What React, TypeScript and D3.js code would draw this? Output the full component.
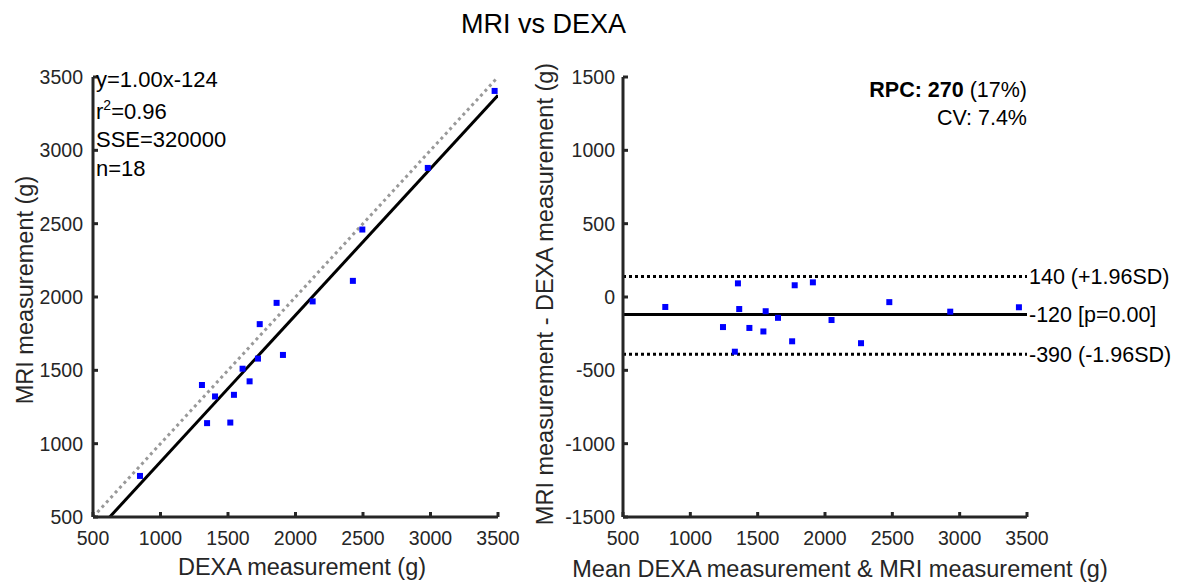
import React from 'react';
import * as d3 from 'd3';

// DEXA vs MRI values (g)
const dexa = [848, 1307, 1345, 1404, 1517, 1544, 1608, 1660, 1722, 1735, 1860, 1907, 2127, 2425, 2495, 2980, 3475];
const mri = [780, 1400, 1140, 1322, 1144, 1333, 1511, 1425, 1580, 1815, 1960, 1605, 1970, 2110, 2460, 2880, 3405];

const xTicks = [500, 1000, 1500, 2000, 2500, 3000, 3500];
const leftYTicks = [500, 1000, 1500, 2000, 2500, 3000, 3500];
const rightYTicks = [-1500, -1000, -500, 0, 500, 1000, 1500];

const fitSlope = 1.0;
const fitIntercept = -124;
const meanDiff = -120;
const upperLoA = 140;
const lowerLoA = -390;

const statsLeft = ['y=1.00x-124', 'r2=0.96', 'SSE=320000', 'n=18'];
const statsY = [87, 119, 147, 176];
const loaLabels = ['140 (+1.96SD)', '-120 [p=0.00]', '-390 (-1.96SD)'];

const W = 1185;
const H = 582;
const font = '"Liberation Sans", Arial, sans-serif';
const axisColor = '#262626';

const top = 77;
const bottom = 517;

const App = () => {
  const xL = d3.scaleLinear().domain([500, 3500]).range([93, 498]);
  const yL = d3.scaleLinear().domain([500, 3500]).range([bottom, top]);
  const xR = d3.scaleLinear().domain([500, 3500]).range([623, 1027]);
  const yR = d3.scaleLinear().domain([-1500, 1500]).range([bottom, top]);

  const means = dexa.map((d, i) => (d + mri[i]) / 2);
  const diffs = dexa.map((d, i) => mri[i] - d);

  const lineGen = d3.line<number[]>().x(d => xL(d[0])).y(d => yL(d[1]));
  const identity = lineGen([[500, 500], [3500, 3500]]);
  const fit = lineGen([[500, 500 * fitSlope + fitIntercept], [3500, 3500 * fitSlope + fitIntercept]]);

  const tickStyle = { fontFamily: font, fontSize: 19.5, fill: axisColor };
  const labelStyle = { fontFamily: font, fontSize: 23.5, fill: axisColor };
  const noteStyle = { fontFamily: font, fontSize: 21.5, fill: '#000' };

  return (
    <svg width={W} height={H} style={{ position: 'absolute', left: 0, top: 0, background: '#fff' }}>
      <defs>
        <clipPath id="clipL">
          <rect x={93} y={top} width={405} height={bottom - top} />
        </clipPath>
      </defs>
      <text x={461} y={33} style={{ fontFamily: font, fontSize: 27, fill: '#000' }}>MRI vs DEXA</text>

      {/* left panel */}
      <g clipPath="url(#clipL)">
        <path d={identity || ''} stroke="#999" strokeWidth={3} strokeDasharray="3,3.5" fill="none" />
        <path d={fit || ''} stroke="#000" strokeWidth={3} fill="none" />
      </g>
      {dexa.map((d, i) => (
        <rect key={i} x={xL(d) - 3} y={yL(mri[i]) - 3} width={6} height={6} fill="#0000ff" />
      ))}
      <line x1={xL(500)} x2={xL(3500)} y1={bottom} y2={bottom} stroke={axisColor} strokeWidth={3} />
      <line x1={93} x2={93} y1={top} y2={bottom} stroke={axisColor} strokeWidth={3} />
      {xTicks.map(t => (
        <g key={t}>
          <line x1={xL(t)} x2={xL(t)} y1={bottom} y2={bottom - 5} stroke={axisColor} strokeWidth={3} />
          <text x={xL(t)} y={545} textAnchor="middle" style={tickStyle}>{t}</text>
        </g>
      ))}
      {leftYTicks.map(t => (
        <g key={t}>
          <line x1={93} x2={98} y1={yL(t)} y2={yL(t)} stroke={axisColor} strokeWidth={3} />
          <text x={83} y={yL(t) + 7} textAnchor="end" style={tickStyle}>{t}</text>
        </g>
      ))}
      <text x={302} y={575} textAnchor="middle" style={labelStyle}>DEXA measurement (g)</text>
      <text transform={`translate(33,290) rotate(-90)`} textAnchor="middle" style={labelStyle}>MRI measurement (g)</text>
      {statsLeft.map((s, i) => (
        <text key={s} x={96} y={statsY[i]} style={{ fontFamily: font, fontSize: 22, fill: '#000' }}>
          {i === 1 ? (<>r<tspan dy={-9} fontSize={14}>2</tspan><tspan dy={9}>=0.96</tspan></>) : s}
        </text>
      ))}

      {/* right panel */}
      {[upperLoA, lowerLoA].map(v => (
        <line key={v} x1={xR(500)} x2={xR(3500)} y1={yR(v)} y2={yR(v)} stroke="#000" strokeWidth={3} strokeDasharray="3,3" />
      ))}
      <line x1={xR(500)} x2={xR(3500)} y1={yR(meanDiff)} y2={yR(meanDiff)} stroke="#000" strokeWidth={3} />
      {means.map((m, i) => (
        <rect key={i} x={xR(m) - 3} y={yR(diffs[i]) - 3} width={6} height={6} fill="#0000ff" />
      ))}
      {[upperLoA, meanDiff, lowerLoA].map((v, i) => (
        <text key={v} x={1029} y={yR(v) + 7.5} style={noteStyle}>{loaLabels[i]}</text>
      ))}
      <line x1={623} x2={1027} y1={bottom} y2={bottom} stroke={axisColor} strokeWidth={3} />
      <line x1={623} x2={623} y1={top} y2={bottom} stroke={axisColor} strokeWidth={3} />
      {xTicks.map(t => (
        <g key={t}>
          <line x1={xR(t)} x2={xR(t)} y1={bottom} y2={bottom - 5} stroke={axisColor} strokeWidth={3} />
          <text x={xR(t)} y={545} textAnchor="middle" style={tickStyle}>{t}</text>
        </g>
      ))}
      {rightYTicks.map(t => (
        <g key={t}>
          <line x1={623} x2={628} y1={yR(t)} y2={yR(t)} stroke={axisColor} strokeWidth={3} />
          <text x={615} y={yR(t) + 7} textAnchor="end" style={tickStyle}>{t}</text>
        </g>
      ))}
      <text x={840} y={577} textAnchor="middle" style={labelStyle}>Mean DEXA measurement &amp; MRI measurement (g)</text>
      <text transform={`translate(553,294) rotate(-90)`} textAnchor="middle" style={labelStyle}>MRI measurement - DEXA measurement (g)</text>
      <text x={1027} y={97} textAnchor="end" style={noteStyle}>
        <tspan fontWeight="bold">RPC: 270</tspan> (17%)
      </text>
      <text x={1027} y={125} textAnchor="end" style={noteStyle}>CV: 7.4%</text>
    </svg>
  );
};

export default App;
